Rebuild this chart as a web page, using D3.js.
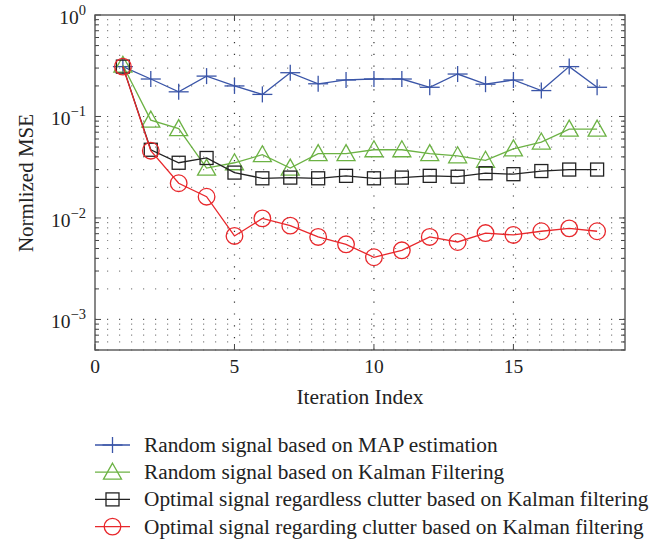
<!DOCTYPE html>
<html>
<head>
<meta charset="utf-8">
<script src="https://d3js.org/d3.v7.min.js"></script>
<style>
  body { margin: 0; background: #fff; }
  svg { display: block; }
  text { font-family: "Liberation Serif", "DejaVu Serif", serif; fill: #222; }
</style>
</head>
<body>
<svg width="659" height="539"></svg>
<script>

// values
var iterations = [1, 2, 3, 4, 5, 6, 7, 8, 9, 10, 11, 12, 13, 14, 15, 16, 17, 18];
var mapEstimation = [0.31, 0.234, 0.175, 0.25, 0.2, 0.165, 0.27, 0.21, 0.229, 0.234, 0.234, 0.194, 0.262, 0.208, 0.229, 0.18, 0.31, 0.194];
var kalmanRandom = [0.32, 0.092, 0.076, 0.031, 0.035, 0.042, 0.031, 0.043, 0.043, 0.047, 0.047, 0.043, 0.041, 0.037, 0.048, 0.056, 0.075, 0.075];
var kalmanNoClutter = [0.31, 0.047, 0.035, 0.039, 0.028, 0.0246, 0.025, 0.0246, 0.026, 0.0246, 0.025, 0.026, 0.0255, 0.0276, 0.027, 0.029, 0.030, 0.030];
var kalmanClutter = [0.31, 0.046, 0.022, 0.0162, 0.00665, 0.0099, 0.0084, 0.0065, 0.0055, 0.0041, 0.0048, 0.0065, 0.0058, 0.0071, 0.0068, 0.0074, 0.0079, 0.0074];

var seriesNames = [
  "Random signal based on MAP estimation",
  "Random signal based on Kalman Filtering",
  "Optimal signal regardless clutter based on Kalman filtering",
  "Optimal signal regarding clutter based on Kalman filtering"
];
var xTicks = [0, 5, 10, 15];
var yDecades = [-3, -2, -1, 0];

var svg = d3.select("svg");
var plotLeft = 95, plotRight = 625, plotTop = 15, plotBottom = 350;

var x = d3.scaleLinear().domain([0, 19]).range([plotLeft, plotRight]);
var y = d3.scaleLog().domain([5e-4, 1]).range([plotBottom, plotTop]);

var series = [
  { name: seriesNames[0], values: mapEstimation, color: "#3a55a8", marker: "plus" },
  { name: seriesNames[1], values: kalmanRandom, color: "#6cb244", marker: "triangle" },
  { name: seriesNames[2], values: kalmanNoClutter, color: "#222", marker: "square" },
  { name: seriesNames[3], values: kalmanClutter, color: "#e8282c", marker: "circle" }
];

// minor values per decade for grid + ticks
var minorVals = [];
[-4, -3, -2, -1].forEach(function(e) {
  for (var k = 2; k <= 9; k++) {
    var v = k * Math.pow(10, e);
    if (v >= 5e-4 && v < 1) minorVals.push(v);
  }
});

// grid
var grid = svg.append("g");
grid.selectAll(".hminor")
  .data(minorVals)
  .enter().append("line")
  .attr("x1", plotLeft).attr("x2", plotRight)
  .attr("y1", function(d) { return y(d); })
  .attr("y2", function(d) { return y(d); })
  .attr("stroke", "#888").attr("stroke-width", 1.2)
  .attr("stroke-dasharray", "1.2,10.8");
grid.selectAll(".hmajor")
  .data(yDecades.filter(function(e) { return e < 0; }))
  .enter().append("line")
  .attr("x1", plotLeft).attr("x2", plotRight)
  .attr("y1", function(d) { return y(Math.pow(10, d)); })
  .attr("y2", function(d) { return y(Math.pow(10, d)); })
  .attr("stroke", "#555").attr("stroke-width", 1.2)
  .attr("stroke-dasharray", "1.2,10.8");
grid.selectAll(".vmajor")
  .data(xTicks.filter(function(d) { return d > 0; }))
  .enter().append("line")
  .attr("x1", function(d) { return x(d); })
  .attr("x2", function(d) { return x(d); })
  .attr("y1", plotBottom).attr("y2", plotTop)
  .attr("stroke", "#333").attr("stroke-width", 1.2)
  .attr("stroke-dasharray", "1.2,10.6");

// ticks on all four sides
var ticks = svg.append("g").attr("stroke", "#444").attr("stroke-width", 1);
minorVals.forEach(function(v) {
  ticks.append("line").attr("x1", plotLeft).attr("x2", plotLeft + 4).attr("y1", y(v)).attr("y2", y(v));
  ticks.append("line").attr("x1", plotRight).attr("x2", plotRight - 4).attr("y1", y(v)).attr("y2", y(v));
});
yDecades.forEach(function(e) {
  var v = Math.pow(10, e);
  ticks.append("line").attr("x1", plotLeft).attr("x2", plotLeft + 6).attr("y1", y(v)).attr("y2", y(v));
  ticks.append("line").attr("x1", plotRight).attr("x2", plotRight - 6).attr("y1", y(v)).attr("y2", y(v));
});
xTicks.forEach(function(d) {
  ticks.append("line").attr("x1", x(d)).attr("x2", x(d)).attr("y1", plotBottom).attr("y2", plotBottom - 6);
  ticks.append("line").attr("x1", x(d)).attr("x2", x(d)).attr("y1", plotTop).attr("y2", plotTop + 6);
});

// frame
svg.append("rect")
  .attr("x", plotLeft).attr("y", plotTop)
  .attr("width", plotRight - plotLeft).attr("height", plotBottom - plotTop)
  .attr("fill", "none").attr("stroke", "#555").attr("stroke-width", 1.4);

// tick labels
svg.selectAll(".xlab")
  .data(xTicks)
  .enter().append("text")
  .attr("x", function(d) { return x(d); })
  .attr("y", 373)
  .attr("text-anchor", "middle")
  .attr("font-size", 19.5)
  .text(function(d) { return d; });

yDecades.forEach(function(e) {
  var t = svg.append("text")
    .attr("x", 86)
    .attr("y", y(Math.pow(10, e)) + 9)
    .attr("text-anchor", "end")
    .attr("font-size", 19.5);
  t.append("tspan").text("10");
  t.append("tspan").attr("font-size", 14.5).attr("dy", -9).text(e === 0 ? "0" : "\u2212" + (-e));
});

// axis titles
svg.append("text")
  .attr("x", 360).attr("y", 404)
  .attr("text-anchor", "middle")
  .attr("font-size", 21.5)
  .text("Iteration Index");
svg.append("text")
  .attr("transform", "translate(33,183) rotate(-90)")
  .attr("text-anchor", "middle")
  .attr("font-size", 21)
  .text("Normlized MSE");

// marker drawing
function drawMarker(g, type, color) {
  if (type === "plus") {
    g.append("line").attr("x1", -10).attr("x2", 10).attr("y1", 0).attr("y2", 0);
    g.append("line").attr("x1", 0).attr("x2", 0).attr("y1", -8).attr("y2", 8);
  } else if (type === "triangle") {
    g.append("path").attr("d", "M0,-9L9,7L-9,7Z");
  } else if (type === "square") {
    g.append("rect").attr("x", -6.5).attr("y", -6.5).attr("width", 13).attr("height", 13);
  } else {
    g.append("circle").attr("r", 8.3);
  }
  g.attr("stroke", color).attr("stroke-width", 1.3).attr("fill", "none");
}

var line = d3.line()
  .x(function(d) { return x(d[0]); })
  .y(function(d) { return y(d[1]); });

series.forEach(function(s) {
  var pts = iterations.map(function(it, i) { return [it, s.values[i]]; });
  svg.append("path")
    .attr("d", line(pts))
    .attr("fill", "none")
    .attr("stroke", s.color)
    .attr("stroke-width", 1.3);
  pts.forEach(function(p) {
    var g = svg.append("g").attr("transform", "translate(" + x(p[0]) + "," + y(p[1]) + ")");
    drawMarker(g, s.marker, s.color);
  });
});

// legend
var legend = svg.append("g");
series.forEach(function(s, i) {
  var ly = 445 + i * 27.2;
  legend.append("line")
    .attr("x1", 95).attr("x2", 130)
    .attr("y1", ly).attr("y2", ly)
    .attr("stroke", s.color).attr("stroke-width", 1.3);
  var g = legend.append("g").attr("transform", "translate(112.5," + ly + ")");
  drawMarker(g, s.marker, s.color);
  legend.append("text")
    .attr("x", 144)
    .attr("y", ly + 7)
    .attr("font-size", 21.3)
    .text(s.name);
});

</script>
</body>
</html>
